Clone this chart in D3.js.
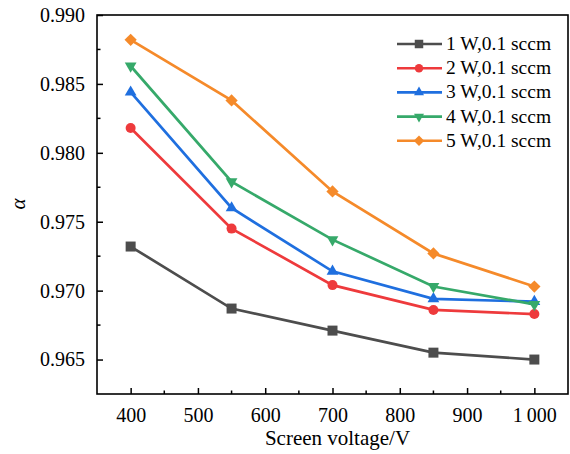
<!DOCTYPE html>
<html lang="en">
<head>
<meta charset="UTF-8">
<title>alpha vs screen voltage</title>
<script src="https://cdn.jsdelivr.net/npm/d3@7/dist/d3.min.js"></script>
<style>
  body { margin: 0; background: #fff; }
  svg text { font-family: "Liberation Serif", "DejaVu Serif", serif; fill: #000; }
</style>
</head>
<body>
<script>
// data
var voltages = [400, 550, 700, 850, 1000];
var seriesNames = ["1 W,0.1 sccm", "2 W,0.1 sccm", "3 W,0.1 sccm", "4 W,0.1 sccm", "5 W,0.1 sccm"];
var alpha1W = [0.9732, 0.9687, 0.9671, 0.9655, 0.9650];
var alpha2W = [0.9818, 0.9745, 0.9704, 0.9686, 0.9683];
var alpha3W = [0.9844, 0.9760, 0.9714, 0.9694, 0.9692];
var alpha4W = [0.9863, 0.9779, 0.9737, 0.9703, 0.9690];
var alpha5W = [0.9882, 0.9838, 0.9772, 0.9727, 0.9703];
var xTicks = [400, 500, 600, 700, 800, 900, 1000];
var yTicks = [0.965, 0.970, 0.975, 0.980, 0.985, 0.990];

var colors = ["#4d4d4d", "#ee3a3c", "#1f6fdf", "#36a96a", "#f58a2a"];
var symbols = ["square", "circle", "up", "down", "diamond"];

var series = [alpha1W, alpha2W, alpha3W, alpha4W, alpha5W].map(function (v, i) {
  return { name: seriesNames[i], color: colors[i], sym: symbols[i],
           pts: v.map(function (a, j) { return { x: voltages[j], y: a }; }) };
});

var W = 570, H = 454;
var pLeft = 97, pRight = 568, pTop = 15, pBottom = 394;
var serif = "'Liberation Serif', 'DejaVu Serif', serif";

var x = d3.scaleLinear().domain([350, 1050]).range([pLeft, pRight]);
var y = d3.scaleLinear().domain([0.9625, 0.990]).range([pBottom, pTop]);

var svg = d3.select("body").append("svg").attr("width", W).attr("height", H);

// axes, ticks inward
var xAxis = svg.append("g").attr("transform", "translate(0," + pBottom + ")")
  .call(d3.axisBottom(x).tickValues(xTicks).tickSizeInner(-6).tickSizeOuter(0).tickPadding(14)
    .tickFormat(function (d) { return d >= 1000 ? "1\u2009000" : d; }));
xAxis.append("g").selectAll("line")
  .data(d3.range(450, 1050, 100)).enter().append("line")
  .attr("x1", function (d) { return x(d); }).attr("x2", function (d) { return x(d); })
  .attr("y1", 0).attr("y2", -3.5).attr("stroke", "#000").attr("stroke-width", 1.5);

var yAxis = svg.append("g").attr("transform", "translate(" + pLeft + ",0)")
  .call(d3.axisLeft(y).tickValues(yTicks).tickSizeInner(-6).tickSizeOuter(0).tickPadding(12)
    .tickFormat(d3.format(".3f")));
yAxis.append("g").selectAll("line")
  .data([0.9675, 0.9725, 0.9775, 0.9825, 0.9875]).enter().append("line")
  .attr("y1", function (d) { return y(d); }).attr("y2", function (d) { return y(d); })
  .attr("x1", 0).attr("x2", 3.5).attr("stroke", "#000").attr("stroke-width", 1.5);

[xAxis, yAxis].forEach(function (g) {
  g.attr("font-family", serif).attr("font-size", 20);
  g.selectAll(".domain").remove();
  g.selectAll(".tick line").attr("stroke-width", 1.5);
});

// frame
svg.append("rect").attr("x", pLeft).attr("y", pTop)
  .attr("width", pRight - pLeft).attr("height", pBottom - pTop)
  .attr("fill", "none").attr("stroke", "#000").attr("stroke-width", 1.6);

function markerPath(sym, s) {
  if (sym === "square") return d3.symbol(d3.symbolSquare, s * s)();
  if (sym === "circle") return d3.symbol(d3.symbolCircle, Math.PI * s * s / 4)();
  if (sym === "up") return d3.symbol(d3.symbolTriangle, s * s * 0.6)();
  if (sym === "down") return d3.symbol(d3.symbolTriangle, s * s * 0.6)();
  // diamond: rotated square
  return d3.symbol(d3.symbolSquare, s * s * 0.75)();
}
function markerRot(sym) {
  return sym === "down" ? " rotate(180)" : (sym === "diamond" ? " rotate(45)" : "");
}
var mSize = 10;

var line = d3.line().x(function (d) { return x(d.x); }).y(function (d) { return y(d.y); });

series.forEach(function (s) {
  var g = svg.append("g");
  g.append("path").datum(s.pts).attr("d", line)
    .attr("fill", "none").attr("stroke", s.color).attr("stroke-width", 2.7);
  g.selectAll("path.m").data(s.pts).enter().append("path").attr("class", "m")
    .attr("d", markerPath(s.sym, mSize))
    .attr("transform", function (d) {
      return "translate(" + x(d.x) + "," + y(d.y) + ")" + markerRot(s.sym);
    })
    .attr("fill", s.color);
});

// legend
var lg = svg.append("g");
series.forEach(function (s, i) {
  var ly = 44 + i * 24.2;
  lg.append("line").attr("x1", 397).attr("x2", 442).attr("y1", ly).attr("y2", ly)
    .attr("stroke", s.color).attr("stroke-width", 2.6);
  lg.append("path").attr("d", markerPath(s.sym, 8.5))
    .attr("transform", "translate(419," + ly + ")" + markerRot(s.sym))
    .attr("fill", s.color);
  lg.append("text").attr("x", 446).attr("y", ly + 6)
    .attr("font-family", serif).attr("font-size", 19.5).text(s.name);
});

// axis titles
svg.append("text").attr("x", (pLeft + pRight) / 2 + 5).attr("y", 445)
  .attr("text-anchor", "middle").attr("font-family", serif).attr("font-size", 21)
  .text("Screen voltage/V");
svg.append("text").attr("transform", "translate(25,204) rotate(-90)")
  .attr("text-anchor", "middle").attr("font-family", serif).attr("font-size", 21)
  .attr("font-style", "italic").text("α");
</script>
</body>
</html>
